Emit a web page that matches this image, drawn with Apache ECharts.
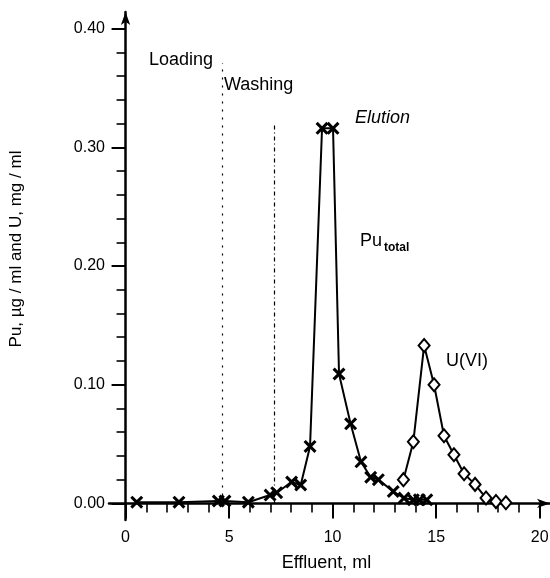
<!DOCTYPE html>
<html>
<head>
<meta charset="utf-8">
<script src="https://cdn.jsdelivr.net/npm/echarts@6/dist/echarts.min.js"></script>
<style>html,body{margin:0;padding:0;background:#fff}#c{width:550px;height:578px}</style>
</head>
<body>
<div id="c"></div>
<script>
// ---- data ----
const puTotal = [
  [0.54, 0.001], [2.58, 0.001], [4.48, 0.002], [4.80, 0.002], [5.93, 0.001],
  [6.98, 0.007], [7.30, 0.009], [8.02, 0.018], [8.46, 0.0155], [8.91, 0.048],
  [9.49, 0.316], [10.02, 0.316], [10.31, 0.109], [10.87, 0.067], [11.37, 0.035],
  [11.84, 0.022], [12.21, 0.020], [12.93, 0.010], [13.45, 0.0045], [13.90, 0.003],
  [14.19, 0.003], [14.55, 0.003]
];
const uVI = [
  [13.42, 0.020], [13.90, 0.052], [14.42, 0.133], [14.90, 0.100], [15.38, 0.057],
  [15.86, 0.041], [16.35, 0.025], [16.88, 0.016], [17.41, 0.0045], [17.89, 0.0015],
  [18.37, 0.0005]
];
const xMajorTicks = [0, 5, 10, 15, 20];
const xMinorTicks = [1, 2, 3, 4, 6, 7, 8, 9, 11, 12, 13, 14, 16, 17, 18, 19];
const yMajorTicks = [0, 0.1, 0.2, 0.3, 0.4];
const yMinorTicks = [0.02, 0.04, 0.06, 0.08, 0.12, 0.14, 0.16, 0.18, 0.22, 0.24, 0.26, 0.28, 0.32, 0.34, 0.36, 0.38];
const phaseLines = [
  { x: 4.67, top: 0.371, dash: [2, 6] },
  { x: 7.17, top: 0.321, dash: [4, 3, 1, 3] }
];
const annotations = [
  { value: [1.13, 0.3736], text: 'Loading' },
  { value: [4.75, 0.3525], text: 'Washing' },
  { value: [11.08, 0.3247], text: 'Elution', italic: true },
  { value: [11.32, 0.2210], text: '{a|Pu}{b|total}' },
  { value: [15.48, 0.1200], text: 'U(VI)' }
];
const xLabel = 'Effluent, ml';
const yLabel = 'Pu, µg / ml and U, mg / ml';

// ---- chart ----
const FONT = '"Liberation Sans", Arial, sans-serif';
const INK = '#000';
const chart = echarts.init(document.getElementById('c'), null, { renderer: 'canvas' });

const X_MIN = -0.8, X_MAX = 20.5, Y_MIN = -0.014, Y_MAX = 0.414;
const crossPath = 'path://M0,2L2,0L6,4L10,0L12,2L8,6L12,10L10,12L6,8L2,12L0,10L4,6Z';

chart.setOption({
  backgroundColor: '#fff',
  animation: false,
  grid: { left: 109, top: 12, width: 441, height: 508, containLabel: false, outerBoundsMode: 'none' },
  xAxis: [
    {
      type: 'value', min: X_MIN, max: X_MAX,
      name: xLabel, nameLocation: 'middle', nameGap: 34,
      nameTextStyle: { fontFamily: FONT, fontSize: 18, color: INK, padding: [0, 6, 0, 0] },
      axisLine: { onZero: true, symbol: ['none', 'arrow'], symbolSize: [7, 13], lineStyle: { color: INK, width: 2.5 } },
      axisTick: { show: true, customValues: xMajorTicks, length: 15, lineStyle: { color: INK, width: 2 } },
      axisLabel: { customValues: xMajorTicks, margin: 10, fontFamily: FONT, fontSize: 16, color: INK },
      splitLine: { show: false }
    },
    {
      type: 'value', min: X_MIN, max: X_MAX, position: 'bottom',
      axisLine: { show: false, onZero: true },
      axisTick: { show: true, customValues: xMinorTicks, length: 9, lineStyle: { color: INK, width: 1.6 } },
      axisLabel: { show: false },
      splitLine: { show: false }
    }
  ],
  yAxis: [
    {
      type: 'value', min: Y_MIN, max: Y_MAX,
      name: yLabel, nameLocation: 'middle', nameGap: 84, nameRotate: 90,
      nameTextStyle: { fontFamily: FONT, fontSize: 17, color: INK, padding: [0, 0, 0, 34] },
      axisLine: { onZero: true, symbol: ['none', 'arrow'], symbolSize: [7, 13], lineStyle: { color: INK, width: 2.5 } },
      axisTick: { show: true, customValues: yMajorTicks, length: 14, lineStyle: { color: INK, width: 2 } },
      axisLabel: { customValues: yMajorTicks, margin: 4, fontFamily: FONT, fontSize: 16, color: INK,
        formatter: v => v.toFixed(2) },
      splitLine: { show: false }
    },
    {
      type: 'value', min: Y_MIN, max: Y_MAX, position: 'left',
      axisLine: { show: false, onZero: true },
      axisTick: { show: true, customValues: yMinorTicks, length: 9, lineStyle: { color: INK, width: 1.6 } },
      axisLabel: { show: false },
      splitLine: { show: false }
    }
  ],
  series: [
    {
      name: 'Pu total', type: 'line', xAxisIndex: 0, yAxisIndex: 0,
      data: puTotal, symbol: crossPath, symbolSize: 13, showAllSymbol: true,
      lineStyle: { color: INK, width: 2 },
      itemStyle: { color: INK },
      z: 3
    },
    {
      name: 'U(VI)', type: 'line', xAxisIndex: 0, yAxisIndex: 0,
      data: uVI, symbol: 'diamond', symbolSize: [11, 13], showAllSymbol: true,
      lineStyle: { color: INK, width: 2 },
      itemStyle: { color: '#fff', borderColor: INK, borderWidth: 2 },
      z: 4
    },
    {
      name: 'annotations', type: 'scatter', xAxisIndex: 0, yAxisIndex: 0,
      symbolSize: 0, silent: true,
      itemStyle: { opacity: 1 },
      data: annotations.map(a => ({
        value: a.value,
        label: {
          show: true, position: 'right', distance: 0,
          formatter: a.text,
          fontStyle: a.italic ? 'italic' : 'normal',
          fontFamily: FONT, fontSize: 18, color: INK,
          rich: {
            a: { fontFamily: FONT, fontSize: 18, color: INK },
            b: { fontFamily: FONT, fontSize: 12, fontWeight: 'bold', color: INK, padding: [14, 0, 0, 2] }
          }
        }
      })),
      markLine: {
        silent: true, symbol: ['none', 'none'], label: { show: false },
        data: phaseLines.map(p => [
          { coord: [p.x, 0], lineStyle: { color: INK, width: 1.2, type: p.dash } },
          { coord: [p.x, p.top] }
        ])
      }
    }
  ]
});
</script>
</body>
</html>
